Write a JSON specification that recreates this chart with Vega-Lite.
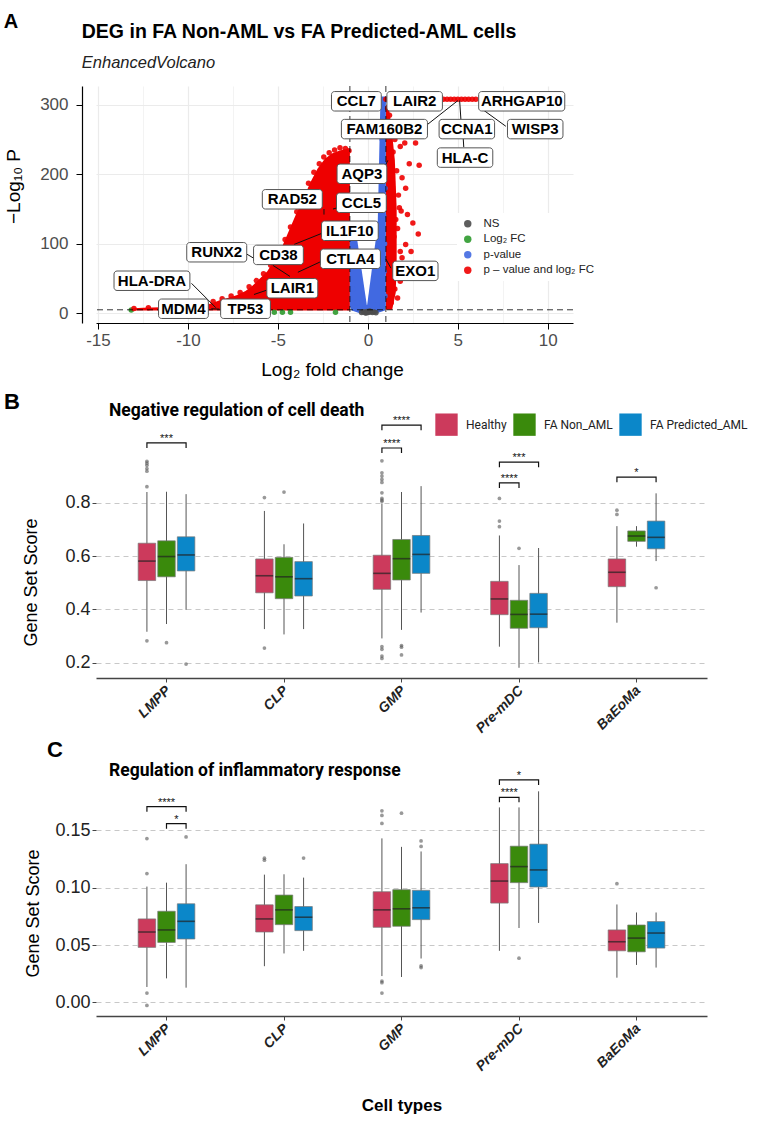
{
  "$schema": "https://vega.github.io/schema/vega-lite/v6.json",
  "background": "white",
  "padding": {"left": 3, "top": 11, "right": 2, "bottom": 4},
  "autosize": {"type": "pad"},
  "spacing": 11,
  "config": {
    "view": {"stroke": null},
    "font": "Liberation Sans",
    "axis": {"labelFont": "Liberation Sans", "titleFont": "Liberation Sans"},
    "legend": {"labelFont": "Liberation Sans"}
  },
  "resolve": {"scale": {"x": "independent", "y": "independent", "color": "independent", "xOffset": "independent"}, "legend": {"color": "independent"}},
  "datasets": {
    "redMass": [{"lfc":-13.25,"nlp":7},{"lfc":-12.5,"nlp":8},{"lfc":-11.5,"nlp":8.5},{"lfc":-10.5,"nlp":9},{"lfc":-9.6,"nlp":10},{"lfc":-9.0,"nlp":12},{"lfc":-8.6,"nlp":15},{"lfc":-8.2,"nlp":19},{"lfc":-7.8,"nlp":22},{"lfc":-7.3,"nlp":26},{"lfc":-6.8,"nlp":32},{"lfc":-6.4,"nlp":40},{"lfc":-6.0,"nlp":50},{"lfc":-5.6,"nlp":60},{"lfc":-5.2,"nlp":76},{"lfc":-4.8,"nlp":94},{"lfc":-4.4,"nlp":118},{"lfc":-4.0,"nlp":142},{"lfc":-3.6,"nlp":164},{"lfc":-3.2,"nlp":188},{"lfc":-2.8,"nlp":208},{"lfc":-2.4,"nlp":222},{"lfc":-2.0,"nlp":230},{"lfc":-1.6,"nlp":234},{"lfc":-1.3,"nlp":236},{"lfc":-1.0,"nlp":236}],
    "redCol": [{"nlp":5,"lfcMin":1.0,"lfcMax":1.35},{"nlp":30,"lfcMin":1.0,"lfcMax":1.55},{"nlp":80,"lfcMin":1.0,"lfcMax":1.6},{"nlp":150,"lfcMin":1.0,"lfcMax":1.6},{"nlp":220,"lfcMin":1.0,"lfcMax":1.5},{"nlp":270,"lfcMin":1.0,"lfcMax":1.3},{"nlp":300,"lfcMin":1.0,"lfcMax":1.15}],
    "blueV": [{"nlp":0,"lfcMin":-0.45,"lfcMax":0.5},{"nlp":4,"lfcMin":-0.9,"lfcMax":0.95},{"nlp":10,"lfcMin":-1.0,"lfcMax":1.0},{"nlp":130,"lfcMin":-1.0,"lfcMax":1.0},{"nlp":132,"lfcMin":0.55,"lfcMax":1.0},{"nlp":312,"lfcMin":0.7,"lfcMax":1.0}],
    "blueGap": [{"nlp":12,"lfcMin":-0.06,"lfcMax":-0.04},{"nlp":128,"lfcMin":-0.72,"lfcMax":0.55}],
    "genes": [
      {"lfc":-0.35,"nlp":1.2,"cat":"NS"},{"lfc":-0.25,"nlp":2.2,"cat":"NS"},{"lfc":-0.15,"nlp":0.8,"cat":"NS"},{"lfc":-0.05,"nlp":2.6,"cat":"NS"},{"lfc":0.05,"nlp":1.4,"cat":"NS"},{"lfc":0.15,"nlp":2.2,"cat":"NS"},{"lfc":0.25,"nlp":1.0,"cat":"NS"},{"lfc":0.35,"nlp":2.0,"cat":"NS"},{"lfc":0.45,"nlp":0.6,"cat":"NS"},{"lfc":0.1,"nlp":3.4,"cat":"NS"},{"lfc":-0.1,"nlp":0.3,"cat":"NS"},{"lfc":0.0,"nlp":1.0,"cat":"NS"},
      {"lfc":-13.15,"nlp":4.6,"cat":"Log₂ FC"},{"lfc":-5.2,"nlp":1.6,"cat":"Log₂ FC"},{"lfc":-4.75,"nlp":1.6,"cat":"Log₂ FC"},{"lfc":-4.3,"nlp":1.6,"cat":"Log₂ FC"},{"lfc":-1.8,"nlp":1.6,"cat":"Log₂ FC"},
      {"lfc":0.9,"nlp":305,"cat":"p-value"},{"lfc":0.85,"nlp":280,"cat":"p-value"},{"lfc":0.8,"nlp":250,"cat":"p-value"},{"lfc":0.9,"nlp":215,"cat":"p-value"},{"lfc":0.95,"nlp":180,"cat":"p-value"},{"lfc":0.88,"nlp":140,"cat":"p-value"},{"lfc":0.93,"nlp":100,"cat":"p-value"},{"lfc":0.9,"nlp":60,"cat":"p-value"},{"lfc":0.95,"nlp":25,"cat":"p-value"},{"lfc":-0.95,"nlp":110,"cat":"p-value"},{"lfc":-0.9,"nlp":70,"cat":"p-value"},{"lfc":-0.85,"nlp":35,"cat":"p-value"},{"lfc":-0.6,"nlp":15,"cat":"p-value"},{"lfc":0.5,"nlp":12,"cat":"p-value"},{"lfc":-0.95,"nlp":125,"cat":"p-value"},{"lfc":0.75,"nlp":300,"cat":"p-value"},
      {"lfc":1.1,"nlp":295,"cat":"p – value and log₂ FC"},{"lfc":1.2,"nlp":285,"cat":"p – value and log₂ FC"},{"lfc":1.15,"nlp":270,"cat":"p – value and log₂ FC"},{"lfc":1.3,"nlp":262,"cat":"p – value and log₂ FC"},{"lfc":1.5,"nlp":250,"cat":"p – value and log₂ FC"},{"lfc":2.05,"nlp":245,"cat":"p – value and log₂ FC"},{"lfc":2.65,"nlp":245,"cat":"p – value and log₂ FC"},{"lfc":1.8,"nlp":240,"cat":"p – value and log₂ FC"},{"lfc":1.4,"nlp":232,"cat":"p – value and log₂ FC"},{"lfc":2.3,"nlp":215,"cat":"p – value and log₂ FC"},{"lfc":2.85,"nlp":213,"cat":"p – value and log₂ FC"},{"lfc":1.6,"nlp":205,"cat":"p – value and log₂ FC"},{"lfc":1.9,"nlp":195,"cat":"p – value and log₂ FC"},{"lfc":2.1,"nlp":180,"cat":"p – value and log₂ FC"},{"lfc":1.7,"nlp":170,"cat":"p – value and log₂ FC"},{"lfc":1.3,"nlp":165,"cat":"p – value and log₂ FC"},{"lfc":1.75,"nlp":152,"cat":"p – value and log₂ FC"},{"lfc":2.2,"nlp":142,"cat":"p – value and log₂ FC"},{"lfc":1.85,"nlp":147,"cat":"p – value and log₂ FC"},{"lfc":1.55,"nlp":135,"cat":"p – value and log₂ FC"},{"lfc":1.65,"nlp":122,"cat":"p – value and log₂ FC"},{"lfc":2.8,"nlp":114,"cat":"p – value and log₂ FC"},{"lfc":1.45,"nlp":110,"cat":"p – value and log₂ FC"},{"lfc":2.1,"nlp":99,"cat":"p – value and log₂ FC"},{"lfc":2.4,"nlp":89,"cat":"p – value and log₂ FC"},{"lfc":1.8,"nlp":89,"cat":"p – value and log₂ FC"},{"lfc":1.9,"nlp":80,"cat":"p – value and log₂ FC"},{"lfc":1.6,"nlp":70,"cat":"p – value and log₂ FC"},{"lfc":2.0,"nlp":60,"cat":"p – value and log₂ FC"},{"lfc":1.8,"nlp":46,"cat":"p – value and log₂ FC"},{"lfc":1.65,"nlp":22,"cat":"p – value and log₂ FC"},{"lfc":1.5,"nlp":35,"cat":"p – value and log₂ FC"},{"lfc":1.3,"nlp":15,"cat":"p – value and log₂ FC"},{"lfc":1.2,"nlp":50,"cat":"p – value and log₂ FC"},{"lfc":2.5,"nlp":130,"cat":"p – value and log₂ FC"},
      {"lfc":1.0,"nlp":308,"cat":"p – value and log₂ FC"},{"lfc":1.2,"nlp":308,"cat":"p – value and log₂ FC"},{"lfc":1.4,"nlp":308,"cat":"p – value and log₂ FC"},{"lfc":1.6,"nlp":308,"cat":"p – value and log₂ FC"},{"lfc":1.8,"nlp":308,"cat":"p – value and log₂ FC"},{"lfc":2.0,"nlp":308,"cat":"p – value and log₂ FC"},{"lfc":2.2,"nlp":308,"cat":"p – value and log₂ FC"},{"lfc":2.4,"nlp":308,"cat":"p – value and log₂ FC"},{"lfc":2.6,"nlp":308,"cat":"p – value and log₂ FC"},{"lfc":2.8,"nlp":308,"cat":"p – value and log₂ FC"},{"lfc":3.0,"nlp":308,"cat":"p – value and log₂ FC"},{"lfc":3.2,"nlp":308,"cat":"p – value and log₂ FC"},{"lfc":3.4,"nlp":308,"cat":"p – value and log₂ FC"},{"lfc":3.6,"nlp":308,"cat":"p – value and log₂ FC"},{"lfc":3.8,"nlp":308,"cat":"p – value and log₂ FC"},{"lfc":4.0,"nlp":308,"cat":"p – value and log₂ FC"},{"lfc":4.2,"nlp":308,"cat":"p – value and log₂ FC"},{"lfc":4.4,"nlp":308,"cat":"p – value and log₂ FC"},{"lfc":4.6,"nlp":308,"cat":"p – value and log₂ FC"},{"lfc":4.8,"nlp":308,"cat":"p – value and log₂ FC"},{"lfc":5.0,"nlp":308,"cat":"p – value and log₂ FC"},{"lfc":5.2,"nlp":308,"cat":"p – value and log₂ FC"},{"lfc":5.4,"nlp":308,"cat":"p – value and log₂ FC"},{"lfc":5.6,"nlp":308,"cat":"p – value and log₂ FC"},{"lfc":5.8,"nlp":308,"cat":"p – value and log₂ FC"},{"lfc":6.0,"nlp":308,"cat":"p – value and log₂ FC"},
      {"lfc":-13.0,"nlp":7,"cat":"p – value and log₂ FC"},{"lfc":-12.2,"nlp":8,"cat":"p – value and log₂ FC"},{"lfc":-11.4,"nlp":8,"cat":"p – value and log₂ FC"},{"lfc":-10.6,"nlp":9,"cat":"p – value and log₂ FC"},{"lfc":-9.8,"nlp":10,"cat":"p – value and log₂ FC"},{"lfc":-9.0,"nlp":13,"cat":"p – value and log₂ FC"},{"lfc":-8.6,"nlp":17,"cat":"p – value and log₂ FC"},{"lfc":-8.1,"nlp":21,"cat":"p – value and log₂ FC"},{"lfc":-7.6,"nlp":25,"cat":"p – value and log₂ FC"},{"lfc":-7.1,"nlp":30,"cat":"p – value and log₂ FC"},{"lfc":-6.6,"nlp":38,"cat":"p – value and log₂ FC"},{"lfc":-6.2,"nlp":47,"cat":"p – value and log₂ FC"},{"lfc":-5.8,"nlp":57,"cat":"p – value and log₂ FC"},{"lfc":-5.4,"nlp":69,"cat":"p – value and log₂ FC"},{"lfc":-5.0,"nlp":86,"cat":"p – value and log₂ FC"},{"lfc":-4.6,"nlp":106,"cat":"p – value and log₂ FC"},{"lfc":-4.3,"nlp":124,"cat":"p – value and log₂ FC"},{"lfc":-3.95,"nlp":146,"cat":"p – value and log₂ FC"},{"lfc":-3.6,"nlp":166,"cat":"p – value and log₂ FC"},{"lfc":-3.3,"nlp":187,"cat":"p – value and log₂ FC"},{"lfc":-3.0,"nlp":203,"cat":"p – value and log₂ FC"},{"lfc":-2.7,"nlp":215,"cat":"p – value and log₂ FC"},{"lfc":-2.45,"nlp":225,"cat":"p – value and log₂ FC"},{"lfc":-2.15,"nlp":231,"cat":"p – value and log₂ FC"},{"lfc":-1.85,"nlp":235,"cat":"p – value and log₂ FC"},{"lfc":-1.55,"nlp":238,"cat":"p – value and log₂ FC"},{"lfc":-1.25,"nlp":237,"cat":"p – value and log₂ FC"},{"lfc":-1.05,"nlp":234,"cat":"p – value and log₂ FC"}
    ],
    "labels": [
      {"gene":"CCL7","lfc":-0.64,"nlp":305},{"gene":"LAIR2","lfc":2.6,"nlp":305},{"gene":"ARHGAP10","lfc":8.55,"nlp":305},
      {"gene":"FAM160B2","lfc":0.92,"nlp":265},{"gene":"CCNA1","lfc":5.5,"nlp":265},{"gene":"WISP3","lfc":9.3,"nlp":265},
      {"gene":"HLA-C","lfc":5.4,"nlp":224},{"gene":"AQP3","lfc":-0.33,"nlp":200.7},{"gene":"RAD52","lfc":-4.2,"nlp":164},
      {"gene":"CCL5","lfc":-0.36,"nlp":159},{"gene":"IL1F10","lfc":-1.0,"nlp":118.7},{"gene":"RUNX2","lfc":-8.4,"nlp":87.8},
      {"gene":"CD38","lfc":-4.97,"nlp":84},{"gene":"CTLA4","lfc":-0.97,"nlp":78.4},{"gene":"EXO1","lfc":2.64,"nlp":61},
      {"gene":"HLA-DRA","lfc":-12.0,"nlp":46.8},{"gene":"LAIR1","lfc":-4.2,"nlp":36},{"gene":"MDM4","lfc":-10.25,"nlp":6.5},
      {"gene":"TP53","lfc":-6.8,"nlp":6.5}
    ],
    "links": [
      {"lfc1":-9.8,"nlp1":43,"lfc2":-8.45,"nlp2":8},{"lfc1":-8.7,"nlp1":6.5,"lfc2":-8.25,"nlp2":6},{"lfc1":-5.65,"nlp1":33,"lfc2":-6.33,"nlp2":27},
      {"lfc1":-6.72,"nlp1":85,"lfc2":-6.33,"nlp2":79},{"lfc1":-5.28,"nlp1":69,"lfc2":-4.33,"nlp2":53},{"lfc1":-2.56,"nlp1":75,"lfc2":-3.89,"nlp2":59},
      {"lfc1":-2.56,"nlp1":115,"lfc2":-4.1,"nlp2":99},{"lfc1":-2.44,"nlp1":150,"lfc2":-2.44,"nlp2":142},{"lfc1":-1.67,"nlp1":152,"lfc2":-1.94,"nlp2":150},
      {"lfc1":0.94,"nlp1":211,"lfc2":1.11,"nlp2":220},{"lfc1":1.28,"nlp1":65,"lfc2":1.0,"nlp2":78},{"lfc1":3.33,"nlp1":272,"lfc2":5.0,"nlp2":306},
      {"lfc1":5.1,"nlp1":306,"lfc2":5.17,"nlp2":279},{"lfc1":5.3,"nlp1":251,"lfc2":5.33,"nlp2":239},{"lfc1":6.44,"nlp1":292,"lfc2":7.67,"nlp2":269}
    ],
    "boxB": [
      {"cell":"LMPP","group":"Healthy","lower":0.316,"q1":0.508,"median":0.581,"q3":0.648,"upper":0.84},
      {"cell":"LMPP","group":"FA Non_AML","lower":0.345,"q1":0.522,"median":0.598,"q3":0.657,"upper":0.841},
      {"cell":"LMPP","group":"FA Predicted_AML","lower":0.398,"q1":0.544,"median":0.604,"q3":0.672,"upper":0.832},
      {"cell":"CLP","group":"Healthy","lower":0.326,"q1":0.462,"median":0.526,"q3":0.589,"upper":0.769},
      {"cell":"CLP","group":"FA Non_AML","lower":0.306,"q1":0.44,"median":0.522,"q3":0.595,"upper":0.644},
      {"cell":"CLP","group":"FA Predicted_AML","lower":0.326,"q1":0.45,"median":0.515,"q3":0.579,"upper":0.722},
      {"cell":"GMP","group":"Healthy","lower":0.291,"q1":0.475,"median":0.535,"q3":0.603,"upper":0.797},
      {"cell":"GMP","group":"FA Non_AML","lower":0.323,"q1":0.51,"median":0.59,"q3":0.662,"upper":0.84},
      {"cell":"GMP","group":"FA Predicted_AML","lower":0.388,"q1":0.535,"median":0.606,"q3":0.677,"upper":0.862},
      {"cell":"Pre-mDC","group":"Healthy","lower":0.26,"q1":0.38,"median":0.439,"q3":0.505,"upper":0.677},
      {"cell":"Pre-mDC","group":"FA Non_AML","lower":0.181,"q1":0.329,"median":0.381,"q3":0.434,"upper":0.566},
      {"cell":"Pre-mDC","group":"FA Predicted_AML","lower":0.201,"q1":0.331,"median":0.382,"q3":0.46,"upper":0.63},
      {"cell":"BaEoMa","group":"Healthy","lower":0.35,"q1":0.485,"median":0.539,"q3":0.589,"upper":0.712},
      {"cell":"BaEoMa","group":"FA Non_AML","lower":0.635,"q1":0.655,"median":0.675,"q3":0.694,"upper":0.712},
      {"cell":"BaEoMa","group":"FA Predicted_AML","lower":0.581,"q1":0.627,"median":0.67,"q3":0.731,"upper":0.835}
    ],
    "outB": [
      {"cell":"LMPP","group":"Healthy","value":0.955},{"cell":"LMPP","group":"Healthy","value":0.948},{"cell":"LMPP","group":"Healthy","value":0.94},{"cell":"LMPP","group":"Healthy","value":0.928},{"cell":"LMPP","group":"Healthy","value":0.918},{"cell":"LMPP","group":"Healthy","value":0.86},{"cell":"LMPP","group":"Healthy","value":0.282},
      {"cell":"LMPP","group":"FA Non_AML","value":0.275},{"cell":"LMPP","group":"FA Predicted_AML","value":0.195},
      {"cell":"CLP","group":"Healthy","value":0.819},{"cell":"CLP","group":"Healthy","value":0.255},{"cell":"CLP","group":"FA Non_AML","value":0.84},
      {"cell":"GMP","group":"Healthy","value":0.957},{"cell":"GMP","group":"Healthy","value":0.912},{"cell":"GMP","group":"Healthy","value":0.9},{"cell":"GMP","group":"Healthy","value":0.887},{"cell":"GMP","group":"Healthy","value":0.876},{"cell":"GMP","group":"Healthy","value":0.837},{"cell":"GMP","group":"Healthy","value":0.816},{"cell":"GMP","group":"Healthy","value":0.81},{"cell":"GMP","group":"Healthy","value":0.805},{"cell":"GMP","group":"Healthy","value":0.26},{"cell":"GMP","group":"Healthy","value":0.25},{"cell":"GMP","group":"Healthy","value":0.225},{"cell":"GMP","group":"Healthy","value":0.216},
      {"cell":"GMP","group":"FA Non_AML","value":0.264},{"cell":"GMP","group":"FA Non_AML","value":0.258},{"cell":"GMP","group":"FA Non_AML","value":0.229},
      {"cell":"Pre-mDC","group":"Healthy","value":0.816},{"cell":"Pre-mDC","group":"Healthy","value":0.731},{"cell":"Pre-mDC","group":"Healthy","value":0.71},{"cell":"Pre-mDC","group":"FA Non_AML","value":0.629},
      {"cell":"BaEoMa","group":"Healthy","value":0.772},{"cell":"BaEoMa","group":"Healthy","value":0.756},{"cell":"BaEoMa","group":"FA Predicted_AML","value":0.481}
    ],
    "brB": [
      {"id":"b1","cell":"LMPP","key":"Healthy","y":1.005,"ord":0},{"id":"b1","cell":"LMPP","key":"Healthy","y":1.024,"ord":1},{"id":"b1","cell":"LMPP","key":"FA Predicted_AML","y":1.024,"ord":2},{"id":"b1","cell":"LMPP","key":"FA Predicted_AML","y":1.005,"ord":3},
      {"id":"b2","cell":"GMP","key":"Healthy","y":1.072,"ord":0},{"id":"b2","cell":"GMP","key":"Healthy","y":1.091,"ord":1},{"id":"b2","cell":"GMP","key":"FA Predicted_AML","y":1.091,"ord":2},{"id":"b2","cell":"GMP","key":"FA Predicted_AML","y":1.072,"ord":3},
      {"id":"b3","cell":"GMP","key":"Healthy","y":0.986,"ord":0},{"id":"b3","cell":"GMP","key":"Healthy","y":1.005,"ord":1},{"id":"b3","cell":"GMP","key":"FA Non_AML","y":1.005,"ord":2},{"id":"b3","cell":"GMP","key":"FA Non_AML","y":0.986,"ord":3},
      {"id":"b4","cell":"Pre-mDC","key":"Healthy","y":0.933,"ord":0},{"id":"b4","cell":"Pre-mDC","key":"Healthy","y":0.952,"ord":1},{"id":"b4","cell":"Pre-mDC","key":"FA Predicted_AML","y":0.952,"ord":2},{"id":"b4","cell":"Pre-mDC","key":"FA Predicted_AML","y":0.933,"ord":3},
      {"id":"b5","cell":"Pre-mDC","key":"Healthy","y":0.855,"ord":0},{"id":"b5","cell":"Pre-mDC","key":"Healthy","y":0.874,"ord":1},{"id":"b5","cell":"Pre-mDC","key":"FA Non_AML","y":0.874,"ord":2},{"id":"b5","cell":"Pre-mDC","key":"FA Non_AML","y":0.855,"ord":3},
      {"id":"b6","cell":"BaEoMa","key":"Healthy","y":0.877,"ord":0},{"id":"b6","cell":"BaEoMa","key":"Healthy","y":0.896,"ord":1},{"id":"b6","cell":"BaEoMa","key":"FA Predicted_AML","y":0.896,"ord":2},{"id":"b6","cell":"BaEoMa","key":"FA Predicted_AML","y":0.877,"ord":3}
    ],
    "starB": [
      {"cell":"LMPP","mid":"FA Non_AML","y":1.024,"label":"***"},{"cell":"GMP","mid":"FA Non_AML","y":1.091,"label":"****"},{"cell":"GMP","mid":"HN","y":1.005,"label":"****"},
      {"cell":"Pre-mDC","mid":"FA Non_AML","y":0.952,"label":"***"},{"cell":"Pre-mDC","mid":"HN","y":0.874,"label":"****"},{"cell":"BaEoMa","mid":"FA Non_AML","y":0.896,"label":"*"}
    ],
    "boxC": [
      {"cell":"LMPP","group":"Healthy","lower":0.0135,"q1":0.048,"median":0.0614,"q3":0.0728,"upper":0.101},
      {"cell":"LMPP","group":"FA Non_AML","lower":0.021,"q1":0.0523,"median":0.0632,"q3":0.0795,"upper":0.1044},
      {"cell":"LMPP","group":"FA Predicted_AML","lower":0.0129,"q1":0.0553,"median":0.0707,"q3":0.086,"upper":0.1205},
      {"cell":"CLP","group":"Healthy","lower":0.0316,"q1":0.0614,"median":0.0728,"q3":0.0851,"upper":0.1114},
      {"cell":"CLP","group":"FA Non_AML","lower":0.0427,"q1":0.0678,"median":0.0807,"q3":0.0936,"upper":0.1117},
      {"cell":"CLP","group":"FA Predicted_AML","lower":0.045,"q1":0.0626,"median":0.0743,"q3":0.0836,"upper":0.1088},
      {"cell":"GMP","group":"Healthy","lower":0.023,"q1":0.0655,"median":0.0807,"q3":0.0965,"upper":0.143},
      {"cell":"GMP","group":"FA Non_AML","lower":0.0222,"q1":0.0664,"median":0.0816,"q3":0.0983,"upper":0.1356},
      {"cell":"GMP","group":"FA Predicted_AML","lower":0.0383,"q1":0.0722,"median":0.0825,"q3":0.0977,"upper":0.1316},
      {"cell":"Pre-mDC","group":"Healthy","lower":0.045,"q1":0.0866,"median":0.1058,"q3":0.121,"upper":0.17},
      {"cell":"Pre-mDC","group":"FA Non_AML","lower":0.0649,"q1":0.1044,"median":0.1184,"q3":0.1362,"upper":0.17},
      {"cell":"Pre-mDC","group":"FA Predicted_AML","lower":0.0693,"q1":0.1006,"median":0.1155,"q3":0.138,"upper":0.184},
      {"cell":"BaEoMa","group":"Healthy","lower":0.0216,"q1":0.045,"median":0.0529,"q3":0.0632,"upper":0.0854},
      {"cell":"BaEoMa","group":"FA Non_AML","lower":0.0327,"q1":0.0441,"median":0.0561,"q3":0.0675,"upper":0.0784},
      {"cell":"BaEoMa","group":"FA Predicted_AML","lower":0.0304,"q1":0.0474,"median":0.0605,"q3":0.0705,"upper":0.0784}
    ],
    "outC": [
      {"cell":"LMPP","group":"Healthy","value":0.1428},{"cell":"LMPP","group":"Healthy","value":0.1123},{"cell":"LMPP","group":"Healthy","value":0.0082},{"cell":"LMPP","group":"Healthy","value":-0.0026},
      {"cell":"LMPP","group":"FA Predicted_AML","value":0.1443},
      {"cell":"CLP","group":"Healthy","value":0.1257},{"cell":"CLP","group":"Healthy","value":0.124},{"cell":"CLP","group":"FA Predicted_AML","value":0.1258},
      {"cell":"GMP","group":"Healthy","value":0.167},{"cell":"GMP","group":"Healthy","value":0.163},{"cell":"GMP","group":"Healthy","value":0.156},{"cell":"GMP","group":"Healthy","value":0.0187},{"cell":"GMP","group":"Healthy","value":0.0172},{"cell":"GMP","group":"Healthy","value":0.0082},
      {"cell":"GMP","group":"FA Non_AML","value":0.165},
      {"cell":"GMP","group":"FA Predicted_AML","value":0.1408},{"cell":"GMP","group":"FA Predicted_AML","value":0.136},{"cell":"GMP","group":"FA Predicted_AML","value":0.0319},{"cell":"GMP","group":"FA Predicted_AML","value":0.0304},
      {"cell":"Pre-mDC","group":"FA Non_AML","value":0.0386},{"cell":"BaEoMa","group":"Healthy","value":0.1035}
    ],
    "brC": [
      {"id":"c1","cell":"LMPP","key":"Healthy","y":0.1662,"ord":0},{"id":"c1","cell":"LMPP","key":"Healthy","y":0.1706,"ord":1},{"id":"c1","cell":"LMPP","key":"FA Predicted_AML","y":0.1706,"ord":2},{"id":"c1","cell":"LMPP","key":"FA Predicted_AML","y":0.1662,"ord":3},
      {"id":"c2","cell":"LMPP","key":"FA Non_AML","y":0.1514,"ord":0},{"id":"c2","cell":"LMPP","key":"FA Non_AML","y":0.1558,"ord":1},{"id":"c2","cell":"LMPP","key":"FA Predicted_AML","y":0.1558,"ord":2},{"id":"c2","cell":"LMPP","key":"FA Predicted_AML","y":0.1514,"ord":3},
      {"id":"c3","cell":"Pre-mDC","key":"Healthy","y":0.1744,"ord":0},{"id":"c3","cell":"Pre-mDC","key":"Healthy","y":0.1788,"ord":1},{"id":"c3","cell":"Pre-mDC","key":"FA Non_AML","y":0.1788,"ord":2},{"id":"c3","cell":"Pre-mDC","key":"FA Non_AML","y":0.1744,"ord":3},
      {"id":"c4","cell":"Pre-mDC","key":"Healthy","y":0.1896,"ord":0},{"id":"c4","cell":"Pre-mDC","key":"Healthy","y":0.194,"ord":1},{"id":"c4","cell":"Pre-mDC","key":"FA Predicted_AML","y":0.194,"ord":2},{"id":"c4","cell":"Pre-mDC","key":"FA Predicted_AML","y":0.1896,"ord":3}
    ],
    "starC": [
      {"cell":"LMPP","mid":"FA Non_AML","y":0.1706,"label":"****"},{"cell":"LMPP","mid":"NP","y":0.1558,"label":"*"},
      {"cell":"Pre-mDC","mid":"HN","y":0.1788,"label":"****"},{"cell":"Pre-mDC","mid":"FA Non_AML","y":0.194,"label":"*"}
    ]
  },
  "vconcat": [
    {
      "width": 477,
      "height": 237,
      "layer": [
        {
          "data": {"name": "redMass"},
          "mark": {"type": "area", "color": "#ee0000", "opacity": 1},
          "encoding": {
            "x": {"field": "lfc", "type": "quantitative", "title": "Log₂ fold change",
              "scale": {"domain": [-15.11, 11.4], "nice": false, "zero": false},
              "axis": {"values": [-15,-12.5,-10,-7.5,-5,-2.5,0,2.5,5,7.5,10],
                "labelExpr": "datum.value % 5 === 0 ? '' + datum.value : ''",
                "grid": true, "gridColor": "#ebebeb",
                "gridWidth": {"condition": {"test": "datum.value % 5 !== 0", "value": 0.6}, "value": 1.2},
                "tickOpacity": {"condition": {"test": "datum.value % 5 !== 0", "value": 0}, "value": 1},
                "domainColor": "#000", "domainWidth": 1.2, "tickColor": "#000", "tickSize": 6,
                "labelFontSize": 17, "labelColor": "#4d4d4d", "labelPadding": 3,
                "titleFontSize": 19, "titleFontWeight": "normal", "titleColor": "#000", "titlePadding": 12, "titleX": 236}},
            "y": {"field": "nlp", "type": "quantitative", "title": "−Log₁₀ P",
              "scale": {"domain": [-14, 327], "nice": false, "zero": false},
              "axis": {"values": [0,50,100,150,200,250,300], "offset": 14,
                "labelExpr": "datum.value % 100 === 0 ? '' + datum.value : ''",
                "grid": true, "gridColor": "#ebebeb",
                "gridWidth": {"condition": {"test": "datum.value % 100 !== 0", "value": 0.6}, "value": 1.2},
                "tickOpacity": {"condition": {"test": "datum.value % 100 !== 0", "value": 0}, "value": 1},
                "domainColor": "#000", "domainWidth": 1.2, "tickColor": "#000", "tickSize": 6,
                "labelFontSize": 17, "labelColor": "#4d4d4d", "labelPadding": 8,
                "titleFontSize": 19, "titleFontWeight": "normal", "titleColor": "#000", "titlePadding": 16, "titleY": 100}},
            "y2": {"datum": 4}
          }
        },
        {
          "data": {"name": "redCol"},
          "mark": {"type": "area", "orient": "horizontal", "color": "#ee0000"},
          "encoding": {"y": {"field": "nlp", "type": "quantitative"}, "x": {"field": "lfcMin", "type": "quantitative"}, "x2": {"field": "lfcMax"}}
        },
        {
          "data": {"name": "blueV"},
          "mark": {"type": "area", "orient": "horizontal", "color": "#4169e1"},
          "encoding": {"y": {"field": "nlp", "type": "quantitative"}, "x": {"field": "lfcMin", "type": "quantitative"}, "x2": {"field": "lfcMax"}}
        },
        {
          "data": {"name": "blueGap"},
          "mark": {"type": "area", "orient": "horizontal", "color": "#ffffff"},
          "encoding": {"y": {"field": "nlp", "type": "quantitative"}, "x": {"field": "lfcMin", "type": "quantitative"}, "x2": {"field": "lfcMax"}}
        },
        {
          "data": {"name": "genes"},
          "mark": {"type": "circle", "size": 30, "opacity": 0.9},
          "encoding": {
            "x": {"field": "lfc", "type": "quantitative"},
            "y": {"field": "nlp", "type": "quantitative"},
            "color": {"field": "cat", "type": "nominal",
              "scale": {"domain": ["NS", "Log₂ FC", "p-value", "p – value and log₂ FC"], "range": ["#4d4d4d", "#2e9a2e", "#4169e1", "#ee0000"]},
              "legend": {"orient": "none", "legendX": 361, "legendY": 127, "title": null, "symbolType": "circle", "symbolSize": 55,
                "labelFontSize": 11.5, "labelColor": "#222", "fillColor": "white", "padding": 5, "rowPadding": 2.5, "labelOffset": 10}}
          }
        },
        {"data": {"values": [{}]}, "mark": {"type": "rule", "strokeDash": [6, 4], "color": "#000", "strokeWidth": 0.8}, "encoding": {"y": {"datum": 5}}},
        {"data": {"values": [{}]}, "mark": {"type": "rule", "strokeDash": [6, 4], "color": "#000", "strokeWidth": 0.8}, "encoding": {"x": {"datum": -1}}},
        {"data": {"values": [{}]}, "mark": {"type": "rule", "strokeDash": [6, 4], "color": "#000", "strokeWidth": 0.8}, "encoding": {"x": {"datum": 1}}},
        {
          "data": {"name": "links"},
          "mark": {"type": "rule", "color": "#111", "strokeWidth": 1},
          "encoding": {"x": {"field": "lfc1", "type": "quantitative"}, "y": {"field": "nlp1", "type": "quantitative"}, "x2": {"field": "lfc2"}, "y2": {"field": "nlp2"}}
        },
        {
          "data": {"name": "labels"},
          "transform": [
            {"calculate": "length(datum.gene) - length(replace(datum.gene, regexp('[I1-]', 'g'), ''))", "as": "nar"},
            {"calculate": "(length(datum.gene) * 10.2 - datum.nar * 4.5 + 9) / 36", "as": "hw"},
            {"calculate": "datum.lfc - datum.hw", "as": "bx1"},
            {"calculate": "datum.lfc + datum.hw", "as": "bx2"},
            {"calculate": "datum.nlp - 14", "as": "by1"},
            {"calculate": "datum.nlp + 14", "as": "by2"}
          ],
          "mark": {"type": "rect", "fill": "white", "stroke": "#555", "strokeWidth": 1, "cornerRadius": 3},
          "encoding": {"x": {"field": "bx1", "type": "quantitative"}, "x2": {"field": "bx2"}, "y": {"field": "by1", "type": "quantitative"}, "y2": {"field": "by2"}}
        },
        {
          "data": {"name": "labels"},
          "mark": {"type": "text", "fontSize": 15, "fontWeight": "bold", "color": "#000", "align": "center", "baseline": "middle", "font": "Liberation Sans"},
          "encoding": {"x": {"field": "lfc", "type": "quantitative"}, "y": {"field": "nlp", "type": "quantitative"}, "text": {"field": "gene"}}
        },
        {
          "data": {"values": [{}]},
          "mark": {"type": "text", "align": "left", "baseline": "top", "fontSize": 20, "fontWeight": "bold", "color": "#000"},
          "encoding": {"x": {"datum": -20.24}, "y": {"datum": 433.5}, "text": {"value": "A"}}
        },
        {
          "data": {"values": [{}]},
          "mark": {"type": "text", "align": "left", "baseline": "middle", "fontSize": 19.5, "fontWeight": "bold", "color": "#000"},
          "encoding": {"x": {"datum": -15.9}, "y": {"datum": 404.7}, "text": {"value": "DEG in FA Non-AML vs FA Predicted-AML cells"}}
        },
        {
          "data": {"values": [{}]},
          "mark": {"type": "text", "align": "left", "baseline": "middle", "fontSize": 16.5, "fontStyle": "italic", "color": "#222"},
          "encoding": {"x": {"datum": -15.9}, "y": {"datum": 360.1}, "text": {"value": "EnhancedVolcano"}}
        }
      ]
    },
    {
      "spacing": 2,
      "resolve": {"scale": {"x": "independent", "y": "independent", "color": "independent", "xOffset": "independent"}, "legend": {"color": "independent"}},
      "vconcat": [
        {
          "width": 611,
          "height": 258,
          "resolve": {"scale": {"x": "independent"}, "axis": {"x": "independent"}},
          "layer": [
            {
              "layer": [
                {
                  "data": {"name": "boxB"},
                  "mark": {"type": "rule", "color": "#555", "strokeWidth": 1},
                  "encoding": {
                    "x": {"field": "cell", "type": "nominal", "title": null,
                      "scale": {"domain": ["LMPP","CLP","GMP","Pre-mDC","BaEoMa"], "paddingInner": 0.5, "paddingOuter": 0.35},
                      "axis": {"labelAngle": -45, "labelAlign": "right", "labelBaseline": "middle", "labelFontSize": 14, "labelFontWeight": "bold", "labelFontStyle": "italic", "labelColor": "#222", "labelPadding": 6, "labelOffset": 2, "domainColor": "#444", "domainWidth": 1.6, "tickColor": "#444", "tickSize": 4, "grid": false}},
                    "xOffset": {"field": "group", "type": "nominal", "scale": {"type": "point", "domain": ["Healthy","HN","FA Non_AML","NP","FA Predicted_AML"], "padding": 1}},
                    "y": {"field": "lower", "type": "quantitative", "title": "Gene Set Score",
                      "scale": {"domain": [0.1426, 1.11], "nice": false, "zero": false},
                      "axis": {"values": [0.2,0.4,0.6,0.8], "format": ".1f", "grid": true, "gridDash": [5,4], "gridColor": "#c8c8c8", "gridWidth": 1, "domain": false, "tickSize": 4, "tickColor": "#444", "labelFontSize": 18, "labelColor": "#222", "labelPadding": 2, "titleFontSize": 18, "titleFontWeight": "normal", "titleColor": "#000", "titlePadding": 24, "titleY": 162}},
                    "y2": {"field": "upper"}
                  }
                },
                {
                  "data": {"name": "boxB"},
                  "mark": {"type": "bar", "width": 17.5, "stroke": "#777", "strokeWidth": 0.7},
                  "encoding": {
                    "x": {"field": "cell", "type": "nominal"},
                    "xOffset": {"field": "group", "type": "nominal"},
                    "y": {"field": "q1", "type": "quantitative"},
                    "y2": {"field": "q3"},
                    "color": {"field": "group", "type": "nominal",
                      "scale": {"domain": ["Healthy","FA Non_AML","FA Predicted_AML"], "range": ["#cc3a5c","#3a8a0c","#0b87c9"]},
                      "legend": {"orient": "none", "legendX": 339, "legendY": -7, "direction": "horizontal", "title": null, "symbolType": "square", "symbolSize": 500, "symbolStrokeWidth": 0, "labelFont": "Roboto", "labelFontSize": 12, "labelColor": "#222", "labelOffset": 8, "columnPadding": 6, "padding": 0}}
                  }
                },
                {
                  "data": {"name": "boxB"},
                  "mark": {"type": "tick", "size": 17.5, "thickness": 1.6, "color": "#222"},
                  "encoding": {"x": {"field": "cell", "type": "nominal"}, "xOffset": {"field": "group", "type": "nominal"}, "y": {"field": "median", "type": "quantitative"}}
                },
                {
                  "data": {"name": "outB"},
                  "mark": {"type": "circle", "size": 14, "color": "#555", "opacity": 0.6},
                  "encoding": {"x": {"field": "cell", "type": "nominal"}, "xOffset": {"field": "group", "type": "nominal"}, "y": {"field": "value", "type": "quantitative"}}
                },
                {
                  "data": {"name": "brB"},
                  "mark": {"type": "line", "color": "#111", "strokeWidth": 1.2},
                  "encoding": {"x": {"field": "cell", "type": "nominal"}, "xOffset": {"field": "key", "type": "nominal"}, "y": {"field": "y", "type": "quantitative"}, "detail": {"field": "id"}, "order": {"field": "ord"}}
                },
                {
                  "data": {"name": "starB"},
                  "mark": {"type": "text", "fontSize": 11, "baseline": "alphabetic", "dy": -1, "color": "#111"},
                  "encoding": {"x": {"field": "cell", "type": "nominal"}, "xOffset": {"field": "mid", "type": "nominal"}, "y": {"field": "y", "type": "quantitative"}, "text": {"field": "label"}}
                }
              ]
            },
            {
              "layer": [
                {
                  "data": {"values": [{}]},
                  "mark": {"type": "text", "align": "left", "baseline": "top", "fontSize": 22, "fontWeight": "bold", "color": "#000"},
                  "encoding": {"x": {"datum": -0.1506, "type": "quantitative", "scale": {"domain": [0, 1], "nice": false, "zero": false}, "axis": null}, "y": {"datum": 1.215, "type": "quantitative"}, "text": {"value": "B"}}
                },
                {
                  "data": {"values": [{}]},
                  "mark": {"type": "text", "align": "left", "baseline": "middle", "fontSize": 17.5, "fontWeight": "bold", "font": "Roboto", "color": "#000"},
                  "encoding": {"x": {"datum": 0.0213, "type": "quantitative"}, "y": {"datum": 1.1456, "type": "quantitative"}, "text": {"value": "Negative regulation of cell death"}}
                }
              ]
            }
          ]
        },
        {
          "width": 611,
          "height": 235,
          "resolve": {"scale": {"x": "independent"}, "axis": {"x": "independent"}},
          "layer": [
            {
              "layer": [
                {
                  "data": {"name": "boxC"},
                  "mark": {"type": "rule", "color": "#555", "strokeWidth": 1},
                  "encoding": {
                    "x": {"field": "cell", "type": "nominal", "title": "Cell types",
                      "scale": {"domain": ["LMPP","CLP","GMP","Pre-mDC","BaEoMa"], "paddingInner": 0.5, "paddingOuter": 0.35},
                      "axis": {"labelAngle": -45, "labelAlign": "right", "labelBaseline": "middle", "labelFontSize": 14, "labelFontWeight": "bold", "labelFontStyle": "italic", "labelColor": "#222", "labelPadding": 6, "labelOffset": 2, "domainColor": "#444", "domainWidth": 1.6, "tickColor": "#444", "tickSize": 4, "grid": false, "titleFontSize": 17, "titleFontWeight": "bold", "titleColor": "#000", "titlePadding": 24}},
                    "xOffset": {"field": "group", "type": "nominal", "scale": {"type": "point", "domain": ["Healthy","HN","FA Non_AML","NP","FA Predicted_AML"], "padding": 1}},
                    "y": {"field": "lower", "type": "quantitative", "title": "Gene Set Score",
                      "scale": {"domain": [-0.0118, 0.193], "nice": false, "zero": false},
                      "axis": {"values": [0, 0.05, 0.1, 0.15], "format": ".2f", "grid": true, "gridDash": [5,4], "gridColor": "#c8c8c8", "gridWidth": 1, "domain": false, "tickSize": 4, "tickColor": "#444", "labelFontSize": 18, "labelColor": "#222", "labelPadding": 2, "titleFontSize": 18, "titleFontWeight": "normal", "titleColor": "#000", "titlePadding": 12, "titleY": 132}},
                    "y2": {"field": "upper"}
                  }
                },
                {
                  "data": {"name": "boxC"},
                  "mark": {"type": "bar", "width": 17.5, "stroke": "#777", "strokeWidth": 0.7},
                  "encoding": {
                    "x": {"field": "cell", "type": "nominal"},
                    "xOffset": {"field": "group", "type": "nominal"},
                    "y": {"field": "q1", "type": "quantitative"},
                    "y2": {"field": "q3"},
                    "color": {"field": "group", "type": "nominal",
                      "scale": {"domain": ["Healthy","FA Non_AML","FA Predicted_AML"], "range": ["#cc3a5c","#3a8a0c","#0b87c9"]},
                      "legend": null}
                  }
                },
                {
                  "data": {"name": "boxC"},
                  "mark": {"type": "tick", "size": 17.5, "thickness": 1.6, "color": "#222"},
                  "encoding": {"x": {"field": "cell", "type": "nominal"}, "xOffset": {"field": "group", "type": "nominal"}, "y": {"field": "median", "type": "quantitative"}}
                },
                {
                  "data": {"name": "outC"},
                  "mark": {"type": "circle", "size": 14, "color": "#555", "opacity": 0.6},
                  "encoding": {"x": {"field": "cell", "type": "nominal"}, "xOffset": {"field": "group", "type": "nominal"}, "y": {"field": "value", "type": "quantitative"}}
                },
                {
                  "data": {"name": "brC"},
                  "mark": {"type": "line", "color": "#111", "strokeWidth": 1.2},
                  "encoding": {"x": {"field": "cell", "type": "nominal"}, "xOffset": {"field": "key", "type": "nominal"}, "y": {"field": "y", "type": "quantitative"}, "detail": {"field": "id"}, "order": {"field": "ord"}}
                },
                {
                  "data": {"name": "starC"},
                  "mark": {"type": "text", "fontSize": 11, "baseline": "alphabetic", "dy": -1, "color": "#111"},
                  "encoding": {"x": {"field": "cell", "type": "nominal"}, "xOffset": {"field": "mid", "type": "nominal"}, "y": {"field": "y", "type": "quantitative"}, "text": {"field": "label"}}
                }
              ]
            },
            {
              "layer": [
                {
                  "data": {"values": [{}]},
                  "mark": {"type": "text", "align": "left", "baseline": "top", "fontSize": 22, "fontWeight": "bold", "color": "#000"},
                  "encoding": {"x": {"datum": -0.0802, "type": "quantitative", "scale": {"domain": [0, 1], "nice": false, "zero": false}, "axis": null}, "y": {"datum": 0.2288, "type": "quantitative"}, "text": {"value": "C"}}
                },
                {
                  "data": {"values": [{}]},
                  "mark": {"type": "text", "align": "left", "baseline": "middle", "fontSize": 17.5, "fontWeight": "bold", "font": "Roboto", "color": "#000"},
                  "encoding": {"x": {"datum": 0.0213, "type": "quantitative"}, "y": {"datum": 0.2017, "type": "quantitative"}, "text": {"value": "Regulation of inflammatory response"}}
                }
              ]
            }
          ]
        }
      ]
    }
  ]
}
